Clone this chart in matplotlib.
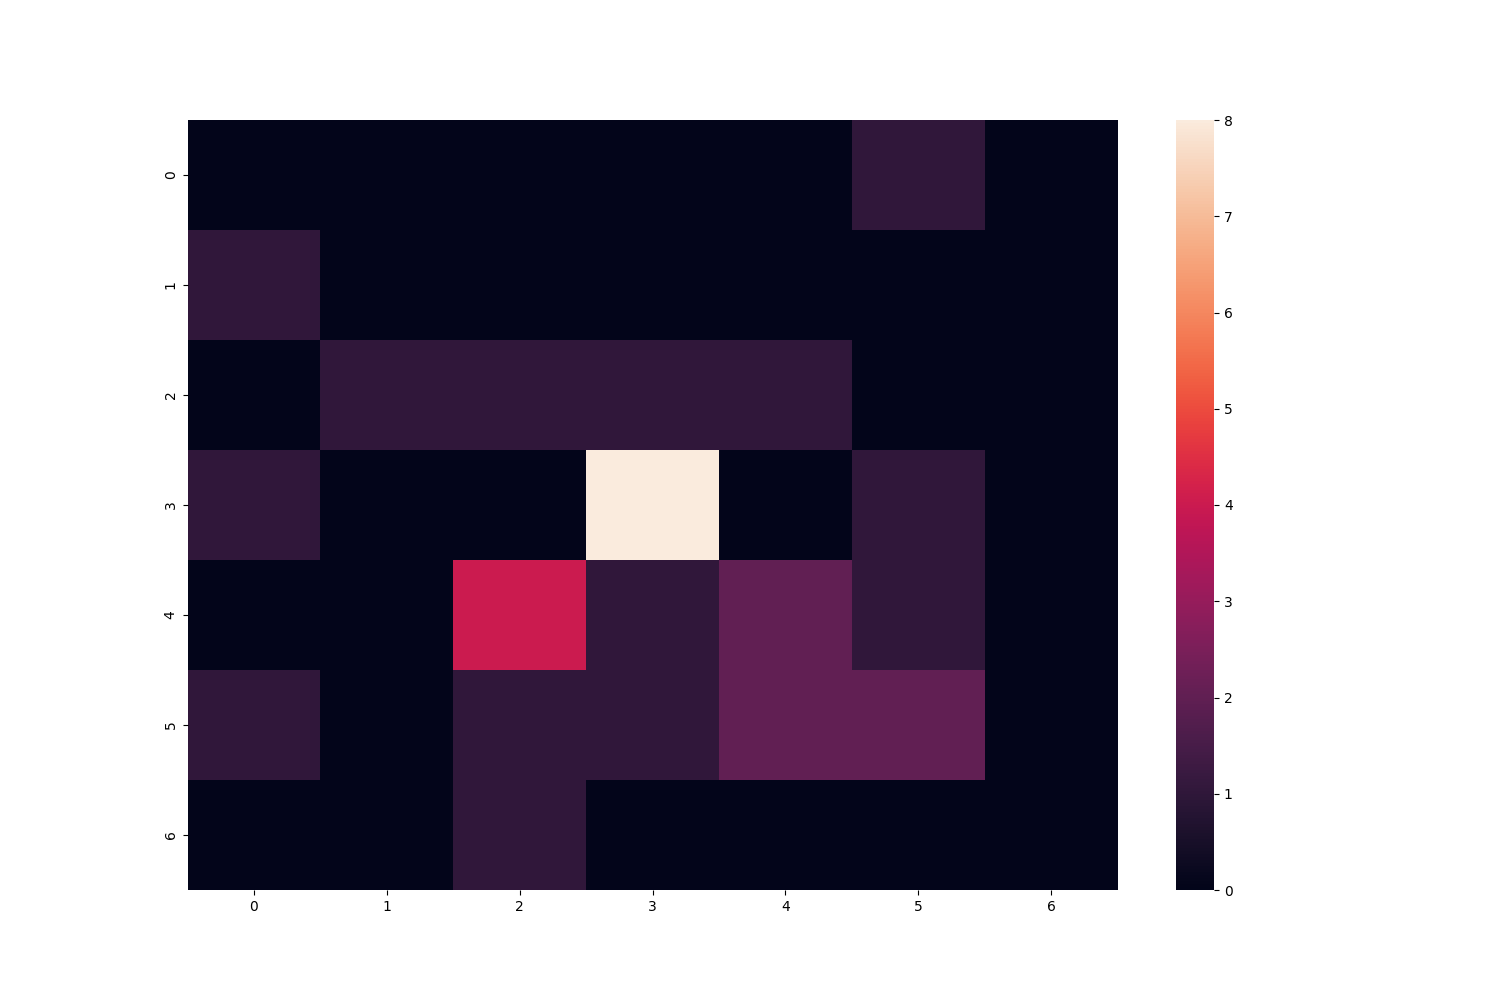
import numpy as np
import seaborn as sns
from matplotlib import pyplot as plt

# confusion-style count grid, 7x7
row0 = [0, 0, 0, 0, 0, 1, 0]
row1 = [1, 0, 0, 0, 0, 0, 0]
row2 = [0, 1, 1, 1, 1, 0, 0]
row3 = [1, 0, 0, 8, 0, 1, 0]
row4 = [0, 0, 4, 1, 2, 1, 0]
row5 = [1, 0, 1, 1, 2, 2, 0]
row6 = [0, 0, 1, 0, 0, 0, 0]

counts = np.array([row0, row1, row2, row3, row4, row5, row6])

fig = plt.figure(figsize=(15, 10))
sns.heatmap(counts)
plt.savefig("out.png", dpi=100)
